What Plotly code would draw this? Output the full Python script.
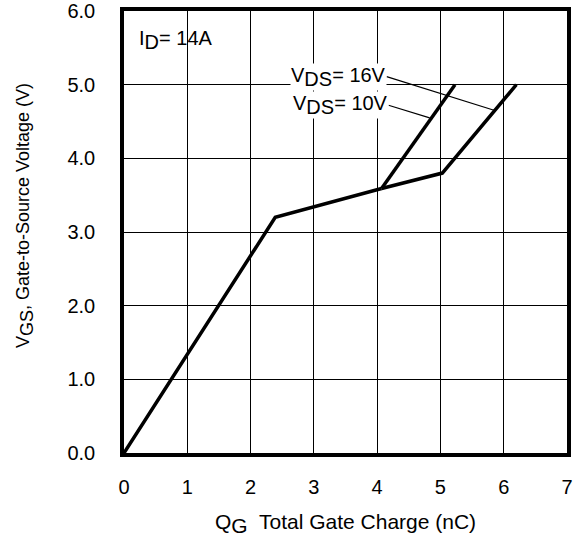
import plotly.graph_objects as go

# Shared segment (both VDS)
qg_common = [0.0, 2.39, 4.07]
vgs_common = [0.0, 3.20, 3.59]
# VDS = 16V branch
qg_16 = [4.07, 5.23]
vgs_16 = [3.59, 5.0]
# VDS = 10V branch
qg_10 = [4.07, 5.03, 6.20]
vgs_10 = [3.59, 3.80, 5.0]

x_ticks = [0, 1, 2, 3, 4, 5, 6, 7]
y_ticks = [0, 1, 2, 3, 4, 5, 6]

line_style = dict(color="black", width=3.5)
fig = go.Figure()
fig.add_trace(go.Scatter(x=qg_common, y=vgs_common, mode="lines", line=line_style, showlegend=False))
fig.add_trace(go.Scatter(x=qg_16, y=vgs_16, mode="lines", line=line_style, showlegend=False))
fig.add_trace(go.Scatter(x=qg_10, y=vgs_10, mode="lines", line=line_style, showlegend=False))

font = "Liberation Sans, Arial, Helvetica, sans-serif"

def sub(t, size):
    return '<sub><span style="font-size:%dpx">%s</span></sub>' % (size, t)

# leader lines
fig.add_shape(type="line", x0=4.15, y0=5.11, x1=5.86, y1=4.65, line=dict(color="black", width=1.2))
fig.add_shape(type="line", x0=4.18, y0=4.72, x1=4.83, y1=4.55, line=dict(color="black", width=1.2))

afont = dict(size=20, color="black", family=font)
fig.add_annotation(x=4.16, y=5.11, text="V" + sub("DS", 20) + "= 16V", showarrow=False, xanchor="right",
                   yanchor="middle", font=afont, bgcolor="white", borderpad=0)
fig.add_annotation(x=4.19, y=4.72, text="V" + sub("DS", 20) + "= 10V", showarrow=False, xanchor="right",
                   yanchor="middle", font=afont, bgcolor="white", borderpad=0)
fig.add_annotation(x=0.2, y=5.6, text="I" + sub("D", 20) + "= 14A", showarrow=False, xanchor="left",
                   yanchor="middle", font=afont)

# axis titles
fig.add_annotation(xref="paper", yref="paper", x=0.5, y=-0.1595, xanchor="center", yanchor="middle",
                   text="Q" + sub("G", 21) + "  Total Gate Charge (nC)", showarrow=False,
                   font=dict(size=21, color="black", family=font))
fig.add_annotation(xref="paper", yref="paper", x=0, xshift=-99, y=0.536, xanchor="center", yanchor="middle",
                   textangle=-90, text="V" + sub("GS", 18) + ", Gate-to-Source Voltage (V)", showarrow=False,
                   font=dict(size=18, color="black", family=font))

fig.update_xaxes(range=[0, 7], tickvals=x_ticks, showgrid=True, gridcolor="black", gridwidth=1.3,
                 showline=True, linecolor="black", linewidth=3.5, mirror=True, zeroline=False,
                 ticks="outside", ticklen=13, tickcolor="rgba(0,0,0,0)", automargin=False,
                 ticklabeloverflow="allow",
                 tickfont=dict(size=20, color="black", family=font))
fig.update_yaxes(range=[0, 6], tickvals=y_ticks, tickformat=".1f", showgrid=True, gridcolor="black", gridwidth=1.3,
                 showline=True, linecolor="black", linewidth=3.5, mirror=True, zeroline=False,
                 ticks="outside", ticklen=21, tickcolor="rgba(0,0,0,0)", automargin=False,
                 ticklabeloverflow="allow",
                 tickfont=dict(size=20, color="black", family=font))

fig.update_layout(width=579, height=541, margin=dict(l=124, r=12, t=11, b=88),
                  plot_bgcolor="white", paper_bgcolor="white")
fig.write_html("out.html", config={"displayModeBar": False},
               post_script="document.body.style.margin='0px';")
